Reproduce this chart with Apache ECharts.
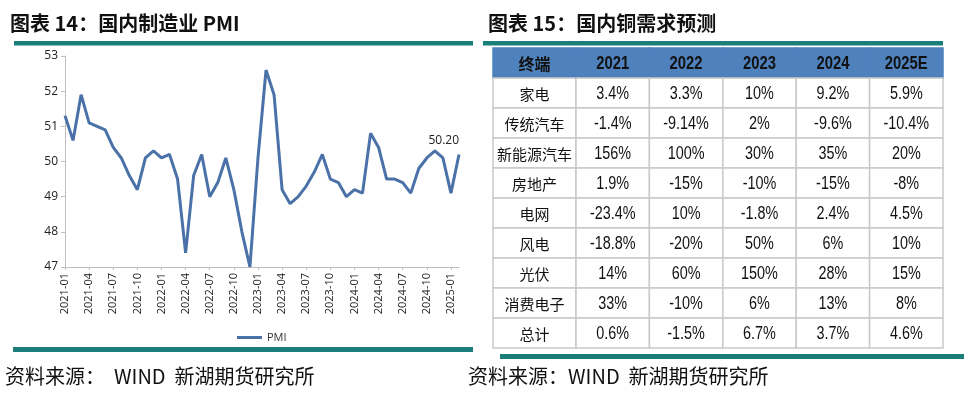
<!DOCTYPE html>
<html><head><meta charset="utf-8">
<script src="https://cdn.jsdelivr.net/npm/echarts@6/dist/echarts.min.js"></script>
<style>html,body{margin:0;padding:0;background:#fff}#c{width:964px;height:393px}</style>
</head><body><div id="c"></div>
<script>
// ---- Left chart data ----
const months = ['2021-01','2021-02','2021-03','2021-04','2021-05','2021-06','2021-07','2021-08','2021-09','2021-10','2021-11','2021-12',
'2022-01','2022-02','2022-03','2022-04','2022-05','2022-06','2022-07','2022-08','2022-09','2022-10','2022-11','2022-12',
'2023-01','2023-02','2023-03','2023-04','2023-05','2023-06','2023-07','2023-08','2023-09','2023-10','2023-11','2023-12',
'2024-01','2024-02','2024-03','2024-04','2024-05','2024-06','2024-07','2024-08','2024-09','2024-10','2024-11','2024-12',
'2025-01','2025-02'];
const pmi = [51.3,50.6,51.9,51.1,51.0,50.9,50.4,50.1,49.6,49.2,50.1,50.3,
50.1,50.2,49.5,47.4,49.6,50.2,49.0,49.4,50.1,49.2,48.0,47.0,
50.1,52.6,51.9,49.2,48.8,49.0,49.3,49.7,50.2,49.5,49.4,49.0,
49.2,49.1,50.8,50.4,49.5,49.5,49.4,49.1,49.8,50.1,50.3,50.1,
49.1,50.2];

// ---- Right table data ----
const headerLabel = '终端';
const years = ['2021','2022','2023','2024','2025E'];
const rowLabels = ['家电','传统汽车','新能源汽车','房地产','电网','风电','光伏','消费电子','总计'];
const growth2021 = [3.4,-1.4,156,1.9,-23.4,-18.8,14,33,0.6];
const growth2022 = [3.3,-9.14,100,-15,10,-20,60,-10,-1.5];
const growth2023 = [10,2,30,-10,-1.8,50,150,6,6.7];
const growth2024 = [9.2,-9.6,35,-15,2.4,6,28,13,3.7];
const growth2025E = [5.9,-10.4,20,-8,4.5,10,15,8,4.6];

const growthCols = [growth2021,growth2022,growth2023,growth2024,growth2025E];
const rowCats = [headerLabel].concat(rowLabels);

// cells: [columnIndex, rowIndex, isHeader]; texts kept parallel
const labelCells = [[0,0,1]], labelTexts = [headerLabel];
rowLabels.forEach((r,i)=>{labelCells.push([0,i+1,0]); labelTexts.push(r);});
const valueCells = [], valueTexts = [];
years.forEach((y,j)=>{valueCells.push([j,0,1]); valueTexts.push(y);});
growthCols.forEach((col,j)=>col.forEach((v,i)=>{valueCells.push([j,i+1,0]); valueTexts.push(v+'%');}));

const CJK = '"Noto Sans CJK SC"';
const NUM = '"Liberation Sans",sans-serif';

function cellRenderer(isLabelCol, texts){
  return function(params, api){
    const c = api.coord([api.value(0), api.value(1)]);
    const s = api.size([1,1]);
    const isHead = api.value(2) === 1;
    const txt = texts[params.dataIndex];
    let font, sx;
    if (isHead) { font = isLabelCol ? 'bold 16px ' + CJK : 'bold 19px ' + NUM; sx = isLabelCol ? 1 : 0.78; }
    else { font = isLabelCol ? '15px ' + CJK : '18px ' + NUM; sx = isLabelCol ? 1 : 0.8; }
    return {
      type:'group',
      children:[
        {type:'rect', shape:{x:c[0]-s[0]/2, y:c[1]-s[1]/2, width:s[0], height:s[1]},
         style:{fill: isHead ? '#4F81BD' : '#ffffff', stroke: isHead ? '#4F81BD' : '#c9c9c9', lineWidth: 1.5}},
        {type:'text', z2:10, x:c[0], y:c[1]+1, scaleX:sx, scaleY:1,
         style:{text: txt, x:0, y:0, align:'center', verticalAlign:'middle', font: font, fill:'#111'}}
      ]
    };
  };
}

const chart = echarts.init(document.getElementById('c'), null, {renderer:'canvas'});
const tableTop = 48, tableH = 300;
chart.setOption({
  animation:false,
  backgroundColor:'#fff',
  title:[
    {text:'图表 14：国内制造业 PMI', left:5, top:8, textStyle:{fontFamily:CJK, fontSize:20, fontWeight:'bold', color:'#111'}},
    {text:'图表 15：国内铜需求预测', left:483, top:8, textStyle:{fontFamily:CJK, fontSize:20, fontWeight:'bold', color:'#111'}}
  ],
  graphic:[
    {type:'rect', shape:{x:14,y:41,width:459,height:4.5}, style:{fill:'#1A7F7A'}},
    {type:'rect', shape:{x:483,y:41,width:460,height:4.5}, style:{fill:'#1A7F7A'}},
    {type:'rect', shape:{x:13,y:347,width:460,height:5}, style:{fill:'#1A7F7A'}},
    {type:'rect', shape:{x:500,y:354,width:464,height:5}, style:{fill:'#1A7F7A'}},
    {type:'text', left:5, top:366, style:{text:'资料来源：  WIND  新湖期货研究所', font:'20px ' + CJK, fill:'#111'}},
    {type:'text', left:468, top:366, style:{text:'资料来源：WIND  新湖期货研究所', font:'20px ' + CJK, fill:'#111'}}
  ],
  legend:{data:['PMI'], left:232, top:327, icon:'rect', itemWidth:25, itemHeight:3, itemGap:2,
    textStyle:{fontSize:11, color:'#333', fontFamily:'"Open Sans",sans-serif'}},
  grid:[
    {left:65, top:56, width:394, height:211},
    {left:493, top:tableTop, width:83, height:tableH},
    {left:576, top:tableTop, width:367, height:tableH}
  ],
  xAxis:[
    {type:'category', gridIndex:0, data:months, boundaryGap:false,
     axisLine:{lineStyle:{color:'#bfbfbf'}},
     axisTick:{interval:2, length:3, lineStyle:{color:'#bfbfbf'}},
     axisLabel:{interval:2, rotate:90, fontSize:11, color:'#222', fontFamily:'"Open Sans",sans-serif', margin:6}},
    {type:'category', gridIndex:1, data:[headerLabel], show:false},
    {type:'category', gridIndex:2, data:years, show:false}
  ],
  yAxis:[
    {type:'value', gridIndex:0, min:47, max:53, interval:1,
     axisLine:{show:true, lineStyle:{color:'#bfbfbf'}},
     axisTick:{show:true, length:4, lineStyle:{color:'#bfbfbf'}},
     splitLine:{show:false},
     axisLabel:{fontSize:12, color:'#222', fontFamily:'"Open Sans",sans-serif', margin:7}},
    {type:'category', gridIndex:1, data:rowCats, inverse:true, show:false},
    {type:'category', gridIndex:2, data:rowCats, inverse:true, show:false}
  ],
  series:[
    {name:'PMI', type:'line', xAxisIndex:0, yAxisIndex:0, data:pmi, showSymbol:false, symbol:'none',
     lineStyle:{color:'#4A71A8', width:3}, itemStyle:{color:'#4A71A8'},
     markPoint:{symbol:'circle', symbolSize:0, data:[{coord:[months.length-1, pmi[pmi.length-1]], value:pmi[pmi.length-1]}],
       label:{show:true, position:'top', align:'right', distance:8, formatter:(p)=>Number(p.value).toFixed(2), fontSize:12, color:'#222', fontFamily:'"Open Sans",sans-serif'}}},
    {type:'custom', xAxisIndex:1, yAxisIndex:1, data:labelCells, renderItem:cellRenderer(true, labelTexts), silent:true},
    {type:'custom', xAxisIndex:2, yAxisIndex:2, data:valueCells, renderItem:cellRenderer(false, valueTexts), silent:true}
  ]
});
</script></body></html>
